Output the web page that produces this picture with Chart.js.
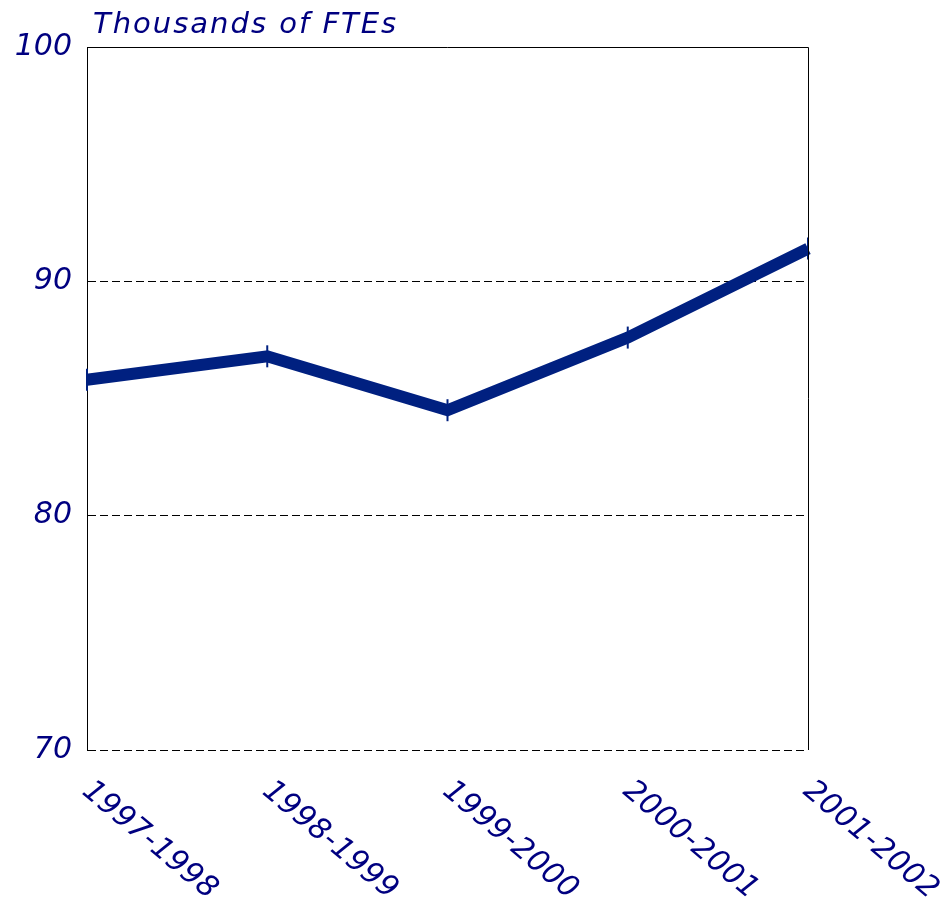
<!DOCTYPE html>
<html>

<head>
    <title>Thousands of FTEs</title>
    <script src="https://cdn.jsdelivr.net/npm/chart.js"></script>
    <style>
        body { margin: 0; background: #fff; }
        #wrap { width: 952px; height: 906px; }
    </style>
</head>

<body>
    <div id="wrap"><canvas id="fteChart" width="952" height="906"></canvas></div>

    <script>
        // ------------- Data -------------
        const years = ['1997-1998', '1998-1999', '1999-2000', '2000-2001', '2001-2002'];
        const ftes = [85.8, 86.8, 84.5, 87.6, 91.4];
        const yTicks = [70, 80, 90, 100];
        const unitLabel = 'Thousands of FTEs';

        const navy = '#000080';
        const lineColor = '#002080';
        const fontFamily = '"DejaVu Sans", Verdana, sans-serif';

        // title, top/right frame and slanted year labels
        const framePlugin = {
            id: 'frame',
            afterDraw(chart) {
                const { ctx, chartArea: a } = chart;
                const xs = chart.scales.x;
                ctx.save();
                ctx.strokeStyle = '#000';
                ctx.lineWidth = 1;
                ctx.setLineDash([]);
                ctx.beginPath();
                ctx.moveTo(a.left, a.top + 0.5);
                ctx.lineTo(a.right + 0.5, a.top + 0.5);
                ctx.lineTo(a.right + 0.5, a.bottom);
                ctx.stroke();

                ctx.fillStyle = navy;
                ctx.font = 'italic 29px ' + fontFamily;
                ctx.letterSpacing = '2px';
                ctx.textAlign = 'left';
                ctx.textBaseline = 'alphabetic';
                ctx.fillText(unitLabel, a.left + 6, 33);

                ctx.font = 'italic 30px ' + fontFamily;
                ctx.letterSpacing = '0.3px';
                years.forEach((lab, i) => {
                    const x = xs.getPixelForTick(i);
                    ctx.save();
                    ctx.translate(x - 1, a.bottom + 37);
                    ctx.rotate(40 * Math.PI / 180);
                    ctx.textBaseline = 'middle';
                    ctx.fillText(lab, 0, 0);
                    ctx.restore();
                });
                ctx.restore();
            }
        };

        const ctx = document.getElementById('fteChart').getContext('2d');
        new Chart(ctx, {
            type: 'line',
            data: {
                labels: years,
                datasets: [{
                    label: unitLabel,
                    data: ftes,
                    borderColor: lineColor,
                    borderWidth: 12,
                    borderCapStyle: 'butt',
                    borderJoinStyle: 'miter',
                    tension: 0,
                    fill: false,
                    pointStyle: 'line',
                    rotation: 90,
                    pointRadius: 11,
                    pointBorderWidth: 2,
                    pointBorderColor: lineColor,
                    pointBackgroundColor: lineColor
                }]
            },
            options: {
                responsive: false,
                animation: false,
                layout: { padding: { top: 47, right: 144, left: 0, bottom: 0 } },
                scales: {
                    x: {
                        type: 'category',
                        offset: false,
                        grid: { display: false },
                        border: { display: false },
                        ticks: { display: false },
                        afterFit(scale) { scale.height = 156; }
                    },
                    y: {
                        min: 70,
                        max: 100,
                        afterBuildTicks(scale) {
                            scale.ticks = yTicks.map(v => ({ value: v }));
                        },
                        grid: {
                            color: '#000',
                            lineWidth: 1,
                            drawTicks: false
                        },
                        border: { display: true, color: '#000', width: 1, dash: [8, 4] },
                        ticks: {
                            color: navy,
                            font: { family: fontFamily, size: 30, style: 'italic' },
                            padding: 15
                        },
                        afterFit(scale) { scale.width = 87; }
                    }
                },
                plugins: {
                    legend: { display: false },
                    tooltip: { enabled: false }
                }
            },
            plugins: [framePlugin]
        });
    </script>
</body>

</html>
